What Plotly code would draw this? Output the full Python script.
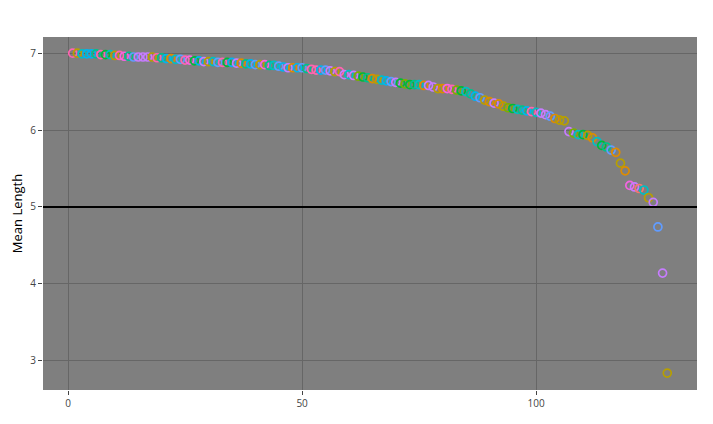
import plotly.graph_objects as go

x_index = list(range(1, 129))

mean_length = [
    7.00, 7.00, 6.99, 6.99, 6.99, 6.99, 6.98, 6.98, 6.98, 6.97,
    6.97, 6.96, 6.96, 6.95, 6.95, 6.95, 6.95, 6.95, 6.94, 6.94,
    6.93, 6.93, 6.92, 6.92, 6.91, 6.91, 6.90, 6.90, 6.89, 6.89,
    6.89, 6.88, 6.88, 6.88, 6.88, 6.87, 6.87, 6.86, 6.86, 6.85,
    6.85, 6.85, 6.84, 6.84, 6.83, 6.82, 6.81, 6.81, 6.81, 6.81,
    6.80, 6.79, 6.78, 6.78, 6.78, 6.77, 6.76, 6.76, 6.72, 6.72,
    6.71, 6.70, 6.69, 6.68, 6.67, 6.66, 6.65, 6.64, 6.63, 6.62,
    6.61, 6.60, 6.59, 6.59, 6.59, 6.58, 6.58, 6.56, 6.54, 6.54,
    6.54, 6.53, 6.52, 6.51, 6.50, 6.47, 6.44, 6.42, 6.39, 6.37,
    6.35, 6.34, 6.31, 6.29, 6.28, 6.27, 6.26, 6.25, 6.24, 6.23,
    6.22, 6.20, 6.18, 6.15, 6.13, 6.12, 5.98, 5.96, 5.94, 5.94,
    5.93, 5.90, 5.85, 5.80, 5.78, 5.74, 5.71, 5.57, 5.47, 5.28,
    5.26, 5.24, 5.22, 5.12, 5.06, 4.74, 4.14, 2.84,
]

group = [
    12, 3, 7, 8, 8, 6, 12, 5, 7, 3,
    12, 11, 6, 9, 10, 10, 10, 3, 12, 6,
    8, 2, 7, 9, 12, 11, 5, 8, 10, 3,
    7, 9, 12, 5, 8, 10, 2, 6, 8, 9,
    3, 11, 6, 7, 9, 8, 10, 2, 8, 9,
    6, 12, 12, 8, 9, 10, 3, 12, 10, 7,
    10, 4, 5, 6, 2, 3, 7, 8, 9, 10,
    5, 4, 5, 6, 7, 2, 10, 10, 3, 2,
    11, 12, 4, 5, 7, 6, 8, 9, 3, 2,
    10, 2, 3, 4, 5, 7, 6, 8, 12, 7,
    10, 10, 9, 2, 3, 3, 10, 4, 7, 5,
    3, 2, 7, 5, 6, 9, 2, 3, 2, 11,
    10, 1, 7, 3, 10, 9, 10, 3,
]

palette = {
    1: "#F8766D", 2: "#DE8C00", 3: "#B79F00", 4: "#7CAE00",
    5: "#00BA38", 6: "#00C08B", 7: "#00BFC4", 8: "#00B4F0",
    9: "#619CFF", 10: "#C77CFF", 11: "#F564E3", 12: "#FF64B0",
}

threshold = 5

colors = [palette[g] for g in group]

fig = go.Figure()
fig.add_trace(go.Scatter(
    x=x_index, y=mean_length, mode="markers",
    marker=dict(symbol="circle-open", size=8, color=colors,
                line=dict(width=1.7)),
    showlegend=False, hoverinfo="x+y",
))
fig.add_hline(y=threshold, line=dict(color="black", width=2))

fig.update_layout(
    width=697, height=408,
    margin=dict(l=35, r=8, t=29, b=26),
    paper_bgcolor="white", plot_bgcolor="#7F7F7F",
    font=dict(family="Open Sans, verdana, arial, sans-serif", color="#444"),
    showlegend=False,
)
fig.update_xaxes(
    range=[-5.35, 134.35], tickvals=[0, 50, 100],
    showgrid=True, gridcolor="#666666", gridwidth=1, zeroline=False,
    ticks="outside", ticklen=4, tickcolor="#444", tickfont=dict(size=10),
    automargin=False,
)
fig.update_yaxes(
    range=[2.62, 7.21], tickvals=[3, 4, 5, 6, 7],
    showgrid=True, gridcolor="#666666", gridwidth=1, zeroline=False,
    ticks="outside", ticklen=4, tickcolor="#444", tickfont=dict(size=10),
    title=dict(text="Mean Length", font=dict(size=13, color="black"), standoff=4),
    automargin=False,
)

fig.write_html("out.html")
